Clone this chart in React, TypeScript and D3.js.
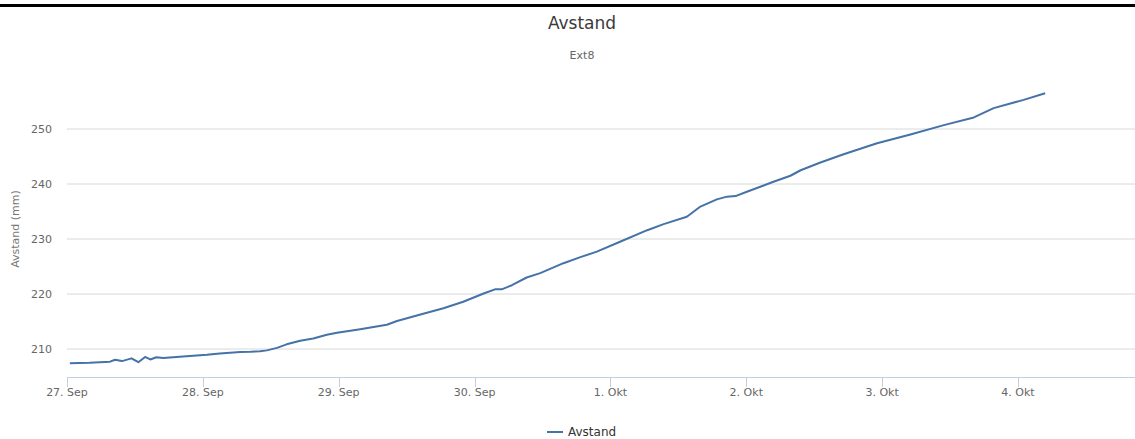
import React from "react";
import * as d3 from "d3";

const seriesName = "Avstand";
const titleText = "Avstand";
const subtitleText = "Ext8";
const yAxisTitle = "Avstand (mm)";
const startDate = new Date(2016, 8, 27, 0, 0);

// hours since 27. Sep 00:00
const hoursSinceStart = [
  0.5, 4, 7.6, 8.5, 9.7, 11.4, 12.6, 13.8, 14.7, 15.8, 17, 21.1, 24.7, 27, 30.6, 32.4,
  34.1, 35.3, 37.1, 38.8, 41.2, 43.5, 45.9, 47.7, 51.8, 56.5, 58.3, 61.8, 66.5, 70,
  73.6, 75.6, 76.8, 78.6, 81.2, 83.6, 87.7, 90.7, 93.6, 97.7, 102.5, 105.4, 109.5,
  111.9, 114.8, 116.6, 118.1, 120.1, 124.8, 127.8, 129.6, 133.1, 137.2, 143.1, 149,
  154.9, 160.2, 163.7, 169, 172.8,
];
const distanceValues = [
  207.4, 207.5, 207.7, 208.05, 207.8, 208.3, 207.6, 208.55, 208.1, 208.5, 208.35, 208.7,
  208.97, 209.2, 209.45, 209.5, 209.6, 209.75, 210.2, 210.85, 211.5, 211.9, 212.6,
  212.97, 213.6, 214.4, 215.1, 216.1, 217.4, 218.6, 220.1, 220.85, 220.85, 221.6, 223.0,
  223.8, 225.6, 226.7, 227.7, 229.5, 231.6, 232.7, 234.05, 235.9, 237.2, 237.7, 237.8,
  238.6, 240.4, 241.5, 242.5, 243.9, 245.4, 247.4, 249.0, 250.7, 252.1, 253.8, 255.3,
  256.5,
];
const yTicks = [210, 220, 230, 240, 250];
const xTickLabels = ["27. Sep", "28. Sep", "29. Sep", "30. Sep", "1. Okt", "2. Okt", "3. Okt", "4. Okt"];

const W = 1135;
const H = 439;
const FONT = "'DejaVu Sans', 'Lucida Grande', sans-serif";

export default function App() {
  const plotLeft = 67;
  const plotRight = 1135;
  const plotBottom = 377;

  const xTickDates = xTickLabels.map((_, i) => d3.timeDay.offset(startDate, i));
  const x = d3
    .scaleTime()
    .domain([xTickDates[0], xTickDates[xTickDates.length - 1]])
    .range([67, 1018]);
  const y = d3.scaleLinear().domain([210, 250]).range([349, 129]);

  const data = hoursSinceStart.map((h, i) => ({
    t: new Date(startDate.getTime() + h * 3600 * 1000),
    v: distanceValues[i],
  }));
  const line = d3
    .line<{ t: Date; v: number }>()
    .x((d) => x(d.t))
    .y((d) => y(d.v));

  return (
    <div style={{ position: "absolute", left: 0, top: 0 }}>
      <svg width={W} height={H} style={{ display: "block", background: "#fff" }}>
        <rect x={0} y={4} width={W} height={3} fill="#000" />
        <text x={582} y={29} textAnchor="middle" fontFamily={FONT} fontSize={17} fill="#3a3a3a">
          {titleText}
        </text>
        <text x={582} y={59} textAnchor="middle" fontFamily={FONT} fontSize={11} fill="#666">
          {subtitleText}
        </text>

        {yTicks.map((t) => (
          <g key={t}>
            <line x1={plotLeft} x2={plotRight} y1={y(t)} y2={y(t)} stroke="#D8D8D8" strokeWidth={1} />
            <text
              x={52}
              y={y(t) + 4}
              textAnchor="end"
              fontFamily={FONT}
              fontSize={11}
              fill="#666"
            >
              {t}
            </text>
          </g>
        ))}

        <text
          transform={`translate(19,${229}) rotate(-90)`}
          textAnchor="middle"
          fontFamily={FONT}
          fontSize={11}
          fill="#777"
        >
          {yAxisTitle}
        </text>

        <line x1={plotLeft} x2={plotRight} y1={plotBottom + 0.5} y2={plotBottom + 0.5} stroke="#C0D0E0" />
        {xTickDates.map((d, i) => (
          <g key={i}>
            <line
              x1={Math.round(x(d)) + 0.5}
              x2={Math.round(x(d)) + 0.5}
              y1={plotBottom}
              y2={plotBottom + 10}
              stroke="#C0D0E0"
            />
            <text
              x={x(d)}
              y={396}
              textAnchor="middle"
              fontFamily={FONT}
              fontSize={11}
              fill="#666"
            >
              {xTickLabels[i]}
            </text>
          </g>
        ))}

        <path d={line(data) || ""} fill="none" stroke="#4572A7" strokeWidth={2} strokeLinejoin="round" />

        <line x1={547} x2={563} y1={432} y2={432} stroke="#4572A7" strokeWidth={2} />
        <text x={568} y={436} fontFamily={FONT} fontSize={12} fill="#333">
          {seriesName}
        </text>
      </svg>
    </div>
  );
}
